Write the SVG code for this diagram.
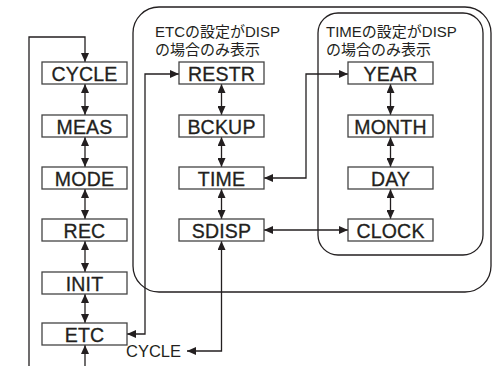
<svg xmlns="http://www.w3.org/2000/svg" width="494" height="366" viewBox="0 0 494 366">
<style>
.box{fill:#fff;stroke:#444;stroke-width:1.3}
.lbl{font-family:"Liberation Sans",Arial,sans-serif;font-size:19.5px;letter-spacing:0.2px;fill:#231f20;stroke:#231f20;stroke-width:0.3;text-anchor:middle}
.note{font-family:"Liberation Sans","Noto Sans CJK JP",sans-serif;font-size:15px;fill:#231f20}
.ln{fill:none;stroke:#231f20;stroke-width:1.3}
.frame{fill:none;stroke:#231f20;stroke-width:1.3}
</style>
<defs>
<marker id="ah" markerUnits="userSpaceOnUse" markerWidth="9" markerHeight="8" refX="9" refY="4" orient="auto-start-reverse">
<path d="M0,0 L9,4 L0,8 z" fill="#231f20"/>
</marker>
</defs>
<rect class="frame" x="133" y="7" width="358" height="285" rx="26"/>
<rect class="frame" x="318" y="13" width="165" height="242" rx="20"/>
<text class="note" x="155" y="37">ETCの設定がDISP</text>
<text class="note" x="155" y="55">の場合のみ表示</text>
<text class="note" x="326" y="37">TIMEの設定がDISP</text>
<text class="note" x="326" y="55">の場合のみ表示</text>
<g id="connectors">
<path class="ln" d="M29,366 V37 H85 V62" marker-end="url(#ah)"/>
<path class="ln" d="M85,84 V115" marker-start="url(#ah)" marker-end="url(#ah)"/>
<path class="ln" d="M85,137 V167" marker-start="url(#ah)" marker-end="url(#ah)"/>
<path class="ln" d="M85,189 V219" marker-start="url(#ah)" marker-end="url(#ah)"/>
<path class="ln" d="M85,241 V272" marker-start="url(#ah)" marker-end="url(#ah)"/>
<path class="ln" d="M85,294 V323" marker-start="url(#ah)" marker-end="url(#ah)"/>
<path class="ln" d="M85,366 V345" marker-end="url(#ah)"/>
<path class="ln" d="M127,334 H145 V74 H179" marker-start="url(#ah)" marker-end="url(#ah)"/>
<path class="ln" d="M221.5,84 V115" marker-start="url(#ah)" marker-end="url(#ah)"/>
<path class="ln" d="M221.5,137 V167" marker-start="url(#ah)" marker-end="url(#ah)"/>
<path class="ln" d="M221.5,189 V219" marker-start="url(#ah)" marker-end="url(#ah)"/>
<path class="ln" d="M187,351 H221.5 V241" marker-start="url(#ah)" marker-end="url(#ah)"/>
<path class="ln" d="M264,178 H306 V74 H348" marker-start="url(#ah)" marker-end="url(#ah)"/>
<path class="ln" d="M264,230 H348" marker-start="url(#ah)" marker-end="url(#ah)"/>
<path class="ln" d="M390.5,84 V115" marker-start="url(#ah)" marker-end="url(#ah)"/>
<path class="ln" d="M390.5,137 V167" marker-start="url(#ah)" marker-end="url(#ah)"/>
<path class="ln" d="M390.5,189 V219" marker-start="url(#ah)" marker-end="url(#ah)"/>
</g>
<g id="CYCLE"><rect class="box" x="42" y="62" width="85" height="22"/><text class="lbl" x="84.5" y="80.5">CYCLE</text></g>
<g id="MEAS"><rect class="box" x="42" y="115" width="85" height="22"/><text class="lbl" x="84.5" y="133.5">MEAS</text></g>
<g id="MODE"><rect class="box" x="42" y="167" width="85" height="22"/><text class="lbl" x="84.5" y="185.5">MODE</text></g>
<g id="REC"><rect class="box" x="42" y="219" width="85" height="22"/><text class="lbl" x="84.5" y="237.5">REC</text></g>
<g id="INIT"><rect class="box" x="42" y="272" width="85" height="22"/><text class="lbl" x="84.5" y="290.5">INIT</text></g>
<g id="ETC"><rect class="box" x="42" y="323" width="85" height="22"/><text class="lbl" x="84.5" y="341.5">ETC</text></g>
<g id="RESTR"><rect class="box" x="179" y="62" width="85" height="22"/><text class="lbl" x="221.5" y="80.5">RESTR</text></g>
<g id="BCKUP"><rect class="box" x="179" y="115" width="85" height="22"/><text class="lbl" x="221.5" y="133.5">BCKUP</text></g>
<g id="TIME"><rect class="box" x="179" y="167" width="85" height="22"/><text class="lbl" x="221.5" y="185.5">TIME</text></g>
<g id="SDISP"><rect class="box" x="179" y="219" width="85" height="22"/><text class="lbl" x="221.5" y="237.5">SDISP</text></g>
<g id="YEAR"><rect class="box" x="348" y="62" width="85" height="22"/><text class="lbl" x="390.5" y="80.5">YEAR</text></g>
<g id="MONTH"><rect class="box" x="348" y="115" width="85" height="22"/><text class="lbl" x="390.5" y="133.5">MONTH</text></g>
<g id="DAY"><rect class="box" x="348" y="167" width="85" height="22"/><text class="lbl" x="390.5" y="185.5">DAY</text></g>
<g id="CLOCK"><rect class="box" x="348" y="219" width="85" height="22"/><text class="lbl" x="390.5" y="237.5">CLOCK</text></g>
<g id="CYCLE-label"><text class="note" x="126" y="357" style="font-size:16.5px">CYCLE</text></g>
</svg>
